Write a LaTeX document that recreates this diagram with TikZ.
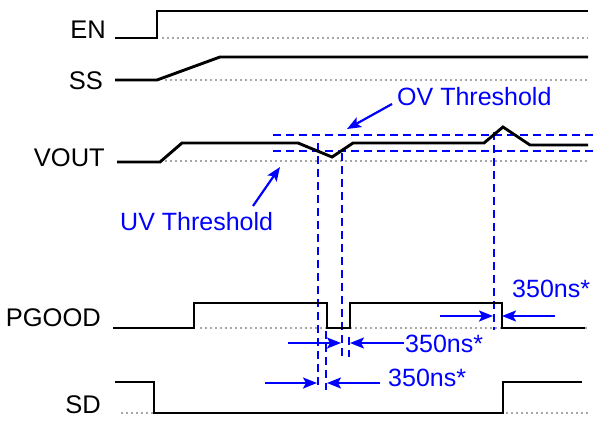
\documentclass[tikz,border=0pt]{standalone}
\usepackage{fontspec}
\setmainfont{Liberation Sans}
\usetikzlibrary{arrows.meta}
\begin{document}
\begin{tikzpicture}[x=1pt,y=-1pt,
  sig/.style={line width=2.9pt, line join=miter},
  basel/.style={gray!70, line width=1.5pt, dash pattern=on 1.5pt off 3.5pt},
  thr/.style={blue, line width=2.2pt, dash pattern=on 8pt off 5pt},
  lbl/.style={anchor=base east, font=\fontsize{25.5}{30}\selectfont, inner sep=0pt},
  blbl/.style={anchor=base west, text=blue, font=\fontsize{25}{30}\selectfont, inner sep=0pt},
  arr/.style={blue, line width=2.2pt, -{Stealth[length=14pt,width=11pt,inset=3pt]}},
]
\useasboundingbox (0,0) rectangle (593,423);

% dotted baselines
\draw[basel] (162,38) -- (588,38);
\draw[basel] (165,80) -- (588,80);
\draw[basel] (165,161) -- (588,161);
\draw[basel] (200,328) -- (588,328);
\draw[basel] (121,413) -- (588,413);

% thresholds and verticals
\draw[thr] (273,135) -- (593,135);
\draw[thr] (273,151) -- (593,151);
\draw[thr] (318,143) -- (318,390);
\draw[thr] (326,331) -- (326,390);
\draw[thr] (342,153) -- (342,360);
\draw[thr] (349,337) -- (349,357);
\draw[thr] (494,132) -- (494,330);

% signals
\draw[sig] (115,38) -- (157,38) -- (157,11) -- (588,11);
\draw[sig] (115,80) -- (157,80) -- (220,57) -- (588,57);
\draw[sig] (117,162) -- (160,162) -- (182,143) -- (298,143) -- (332,157) -- (353,143)
  -- (484,143) -- (503,127) -- (530,145) -- (588,145);
\draw[sig] (113,328) -- (194,328) -- (194,303) -- (327,303) -- (327,328) -- (350,328)
  -- (350,303) -- (502,303) -- (502,328) -- (585,328);
\draw[sig] (115,382) -- (154,382) -- (154,413) -- (503,413) -- (503,382) -- (582,382);

% labels
\node[lbl] (en) at (106,38) {EN};
\node[lbl] (ss) at (103,89) {SS};
\node[lbl] (vout) at (105,166) {VOUT};
\node[lbl] (pgood) at (101,326) {PGOOD};
\node[lbl] (sd) at (101,413) {SD};

\node[blbl] (ov) at (397,105) {OV Threshold};
\node[blbl] (uv) at (120,230) {UV Threshold};
\node[blbl] (t1) at (512,297) {350ns*};
\node[blbl] (t2) at (405,352) {350ns*};
\node[blbl] (t3) at (388,386) {350ns*};

% arrow end points
\coordinate (ova) at (392,104);
\coordinate (ovb) at (347,129);
\coordinate (uva) at (253,206);
\coordinate (uvb) at (280,167);
\coordinate (r1a) at (440,316);
\coordinate (r1b) at (493,316);
\coordinate (r2a) at (555,316);
\coordinate (r2b) at (502,316);
\coordinate (m1a) at (288,343);
\coordinate (m1b) at (341,343);
\coordinate (m2a) at (404,343);
\coordinate (m2b) at (350,343);
\coordinate (b1a) at (265,383);
\coordinate (b1b) at (317,383);
\coordinate (b2a) at (380,383);
\coordinate (b2b) at (327,383);

\draw[arr] (ova) -- (ovb);
\draw[arr] (uva) -- (uvb);
\draw[arr] (r1a) -- (r1b);
\draw[arr] (r2a) -- (r2b);
\draw[arr] (m1a) -- (m1b);
\draw[arr] (m2a) -- (m2b);
\draw[arr] (b1a) -- (b1b);
\draw[arr] (b2a) -- (b2b);
\end{tikzpicture}
\end{document}
